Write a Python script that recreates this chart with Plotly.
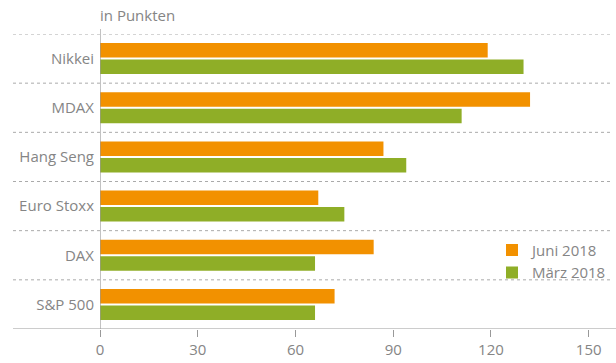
import plotly.graph_objects as go

categories = ["Nikkei", "MDAX", "Hang Seng", "Euro Stoxx", "DAX", "S&P 500"]
juni_2018 = [119, 132, 87, 67, 84, 72]
maerz_2018 = [130, 111, 94, 75, 66, 66]
x_ticks = [0, 30, 60, 90, 120, 150]

ORANGE = "#F29100"
GREEN = "#8FAE27"
GRAY = "#858585"
FONT = "Open Sans"

W, H = 616, 363
L, R, T, B = 100, 4, 34, 32
pw = W - L - R
ph = H - T - B

fig = go.Figure()
fig.add_trace(go.Bar(y=categories, x=juni_2018, orientation="h", name="Juni 2018",
                     marker=dict(color=ORANGE, line=dict(width=0))))
fig.add_trace(go.Bar(y=categories, x=maerz_2018, orientation="h", name="März 2018",
                     marker=dict(color=GREEN, line=dict(width=0))))

shapes = []
x_left = (13 - L) / pw
n = len(categories)
for i in range(n):
    shapes.append(dict(type="line", xref="paper", yref="y", x0=x_left, x1=1.0,
                       y0=i - 0.5, y1=i - 0.5,
                       line=dict(color="#aaaaaa", width=1, dash="3px,3px")))
# bottom axis line
shapes.append(dict(type="line", xref="paper", yref="y", x0=x_left, x1=(W - L) / pw,
                   y0=n - 0.5, y1=n - 0.5, line=dict(color="#999999", width=1.2)))
# vertical zero line
shapes.append(dict(type="line", xref="x", yref="paper", x0=0, x1=0,
                   y0=0, y1=(H - B - 29) / ph, line=dict(color="#999999", width=1.2),
                   layer="above"))

fig.update_layout(
    width=W, height=H,
    margin=dict(l=L, r=R, t=T, b=B),
    paper_bgcolor="white", plot_bgcolor="white",
    barmode="group", bargap=0.33, bargroupgap=0.12,
    font=dict(family=FONT, color=GRAY, size=15),
    showlegend=True,
    legend=dict(x=(492 - L) / pw, y=(H - B - 235) / ph, xanchor="left", yanchor="top",
                bgcolor="rgba(0,0,0,0)", font=dict(size=15, color=GRAY),
                itemwidth=30, tracegroupgap=0),
    shapes=shapes,
    annotations=[dict(text="in Punkten", xref="paper", yref="paper", x=0, y=1,
                      xanchor="left", yanchor="bottom", yshift=7, xshift=-2, showarrow=False,
                      font=dict(size=15, color=GRAY, family=FONT))],
)
fig.update_xaxes(range=[0, (W - L - R) / 3.258], tickvals=x_ticks, ticks="outside",
                 ticklen=7, tickcolor="#999999", tickwidth=1.2, showgrid=False,
                 zeroline=False, showline=False, tickfont=dict(size=15, color=GRAY))
fig.update_yaxes(range=[n - 0.5, -0.5], showgrid=False, zeroline=False, showline=False,
                 ticks="outside", ticklen=2, tickcolor="rgba(0,0,0,0)",
                 tickfont=dict(size=15, color=GRAY))

fig.write_html("out.html")
